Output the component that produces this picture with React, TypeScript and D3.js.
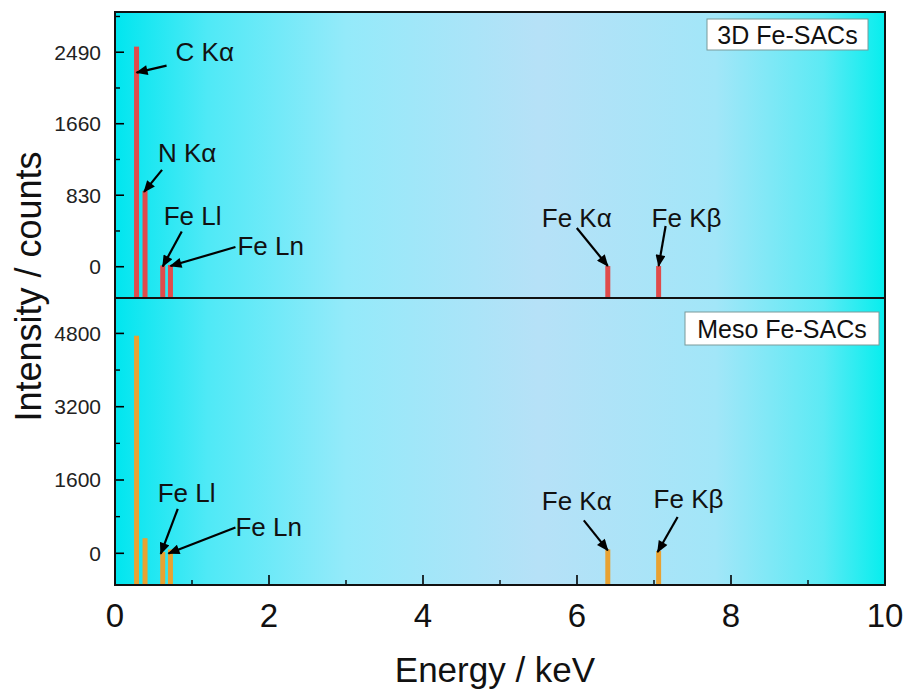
import { useEffect } from 'react'
import * as d3 from 'd3'

// peak positions (keV) and names
const ENERGIES = [0.28, 0.39, 0.62, 0.72, 6.40, 7.06]
const LINES = ['C Kα', 'N Kα', 'Fe Ll', 'Fe Ln', 'Fe Kα', 'Fe Kβ']
// counts per sample
const COUNTS_3D = [2555, 880, 15, 20, 8, 8]
const COUNTS_MESO = [4750, 330, 30, 85, 85, 50]

const X_TICKS = [0, 2, 4, 6, 8, 10]
const X_MINOR = [1, 3, 5, 7, 9]
const Y_TICKS_3D = [0, 830, 1660, 2490]
const Y_MINOR_3D = [415, 1245, 2075, 2905]
const Y_TICKS_MESO = [0, 1600, 3200, 4800]
const Y_MINOR_MESO = [800, 2400, 4000]

// which peaks get a label in each panel
const LABELED_3D = [0, 1, 2, 3, 4, 5]
const LABELED_MESO = [2, 3, 4, 5]

const W = 911
const H = 695
const LEFT = 115
const RIGHT = 885
const TOP = 12
const MID = 298
const BOTTOM = 585
const BAR_W = 5

// arrow/label offsets (px) relative to bar top: tip, tail, text
const OFFS_3D = [
  { tip: [0, 26], tail: [30, 19], text: [39, 14] },
  { tip: [-1, 1], tail: [17, -21], text: [13, -29] },
  { tip: [0, 1], tail: [19, -34], text: [1, -40] },
  { tip: [0, 1], tail: [65, -18], text: [67, -10] },
  { tip: [0, 0], tail: [-31, -38], text: [-66, -39] },
  { tip: [0, 0], tail: [7, -40], text: [-7, -39] },
]
const OFFS_MESO = [
  null, null,
  { tip: [-2, 2], tail: [15, -43], text: [-5, -50] },
  { tip: [-2, 4], tail: [65, -22], text: [65, -13] },
  { tip: [0, 1], tail: [-24, -29], text: [-66, -39] },
  { tip: [-1, 1], tail: [19, -34], text: [-5, -43] },
]

const FONT = '"Liberation Sans", Arial, sans-serif'

const x = d3.scaleLinear().domain([0, 10]).range([LEFT, RIGHT])

function Panel({ counts, ticks, minor, domain, y0, y1, color, labeled, offs, legend, legendBox }) {
  const y = d3.scaleLinear().domain(domain).range([y1, y0])
  return (
    <g>
      {ticks.map(t => (
        <g key={'t' + t}>
          <line x1={LEFT} x2={LEFT + 9} y1={y(t)} y2={y(t)} stroke="#000" strokeWidth={1.6} />
          <text x={LEFT - 14} y={y(t)} dy="0.35em" textAnchor="end" fontSize={21} fill="#222">{t}</text>
        </g>
      ))}
      {minor.map(t => (
        <line key={'m' + t} x1={LEFT} x2={LEFT + 5} y1={y(t)} y2={y(t)} stroke="#000" strokeWidth={1.4} />
      ))}
      {counts.map((c, i) => (
        <rect key={i} x={x(ENERGIES[i]) - BAR_W / 2} width={BAR_W}
          y={y(c)} height={y1 - y(c)} fill={color} />
      ))}
      {labeled.map(i => {
        const bx = x(ENERGIES[i])
        const by = y(counts[i])
        const o = offs[i]
        return (
          <g key={'a' + i}>
            <line x1={bx + o.tail[0]} y1={by + o.tail[1]} x2={bx + o.tip[0]} y2={by + o.tip[1]}
              stroke="#000" strokeWidth={2.2} markerEnd="url(#arrow)" />
            <text x={bx + o.text[0]} y={by + o.text[1]} fontSize={26} fill="#111">{LINES[i]}</text>
          </g>
        )
      })}
      <rect x={legendBox[0]} y={legendBox[1]} width={legendBox[2]} height={legendBox[3]}
        fill="#fff" stroke="#7a9a9a" strokeWidth={1} />
      <text x={legendBox[0] + legendBox[2] / 2} y={legendBox[1] + legendBox[3] / 2} dy="0.36em"
        textAnchor="middle" fontSize={25} fill="#111">{legend}</text>
    </g>
  )
}

export default function App() {
  useEffect(() => { document.body.style.margin = '0' }, [])
  return (
    <svg width={W} height={H} style={{ display: 'block', fontFamily: FONT }}>
      <defs>
        <linearGradient id="bg" x1="0" x2="1" y1="0" y2="0">
          <stop offset="0%" stopColor="#00e6ef" />
          <stop offset="12%" stopColor="#4fe9f6" />
          <stop offset="30%" stopColor="#94eafa" />
          <stop offset="55%" stopColor="#b6e1f7" />
          <stop offset="78%" stopColor="#a2e6f8" />
          <stop offset="92%" stopColor="#5ceaf4" />
          <stop offset="100%" stopColor="#06eeee" />
        </linearGradient>
        <marker id="arrow" viewBox="0 0 12 10" refX="11" refY="5" markerWidth="13" markerHeight="10"
          markerUnits="userSpaceOnUse" orient="auto">
          <path d="M0,0 L12,5 L0,10 Z" fill="#000" />
        </marker>
      </defs>
      <rect x={LEFT} y={TOP} width={RIGHT - LEFT} height={BOTTOM - TOP} fill="url(#bg)" />

      <Panel counts={COUNTS_3D} ticks={Y_TICKS_3D} minor={Y_MINOR_3D} domain={[-363, 2957]}
        y0={TOP} y1={MID} color="#e04b4b" labeled={LABELED_3D} offs={OFFS_3D}
        legend="3D Fe-SACs" legendBox={[707, 19, 161, 31]} />
      <Panel counts={COUNTS_MESO} ticks={Y_TICKS_MESO} minor={Y_MINOR_MESO} domain={[-692, 5573]}
        y0={MID} y1={BOTTOM} color="#e8a232" labeled={LABELED_MESO} offs={OFFS_MESO}
        legend="Meso Fe-SACs" legendBox={[685, 312, 194, 33]} />

      {X_TICKS.map(t => (
        <g key={'x' + t}>
          <line x1={x(t)} x2={x(t)} y1={BOTTOM} y2={BOTTOM - 10} stroke="#000" strokeWidth={1.6} />
          <text x={x(t)} y={627} textAnchor="middle" fontSize={33} fill="#111">{t}</text>
        </g>
      ))}
      {X_MINOR.map(t => (
        <line key={'xm' + t} x1={x(t)} x2={x(t)} y1={BOTTOM} y2={BOTTOM - 5} stroke="#000" strokeWidth={1.4} />
      ))}

      <rect x={LEFT} y={TOP} width={RIGHT - LEFT} height={BOTTOM - TOP} fill="none" stroke="#111" strokeWidth={2} />
      <line x1={LEFT} x2={RIGHT} y1={MID} y2={MID} stroke="#111" strokeWidth={2} />

      <text x={(LEFT + RIGHT) / 2 - 5} y={682} textAnchor="middle" fontSize={35} fill="#111">Energy / keV</text>
      <text transform={`translate(41, ${(TOP + BOTTOM) / 2 - 12}) rotate(-90)`} textAnchor="middle"
        fontSize={36} fill="#111">Intensity / counts</text>
    </svg>
  )
}
